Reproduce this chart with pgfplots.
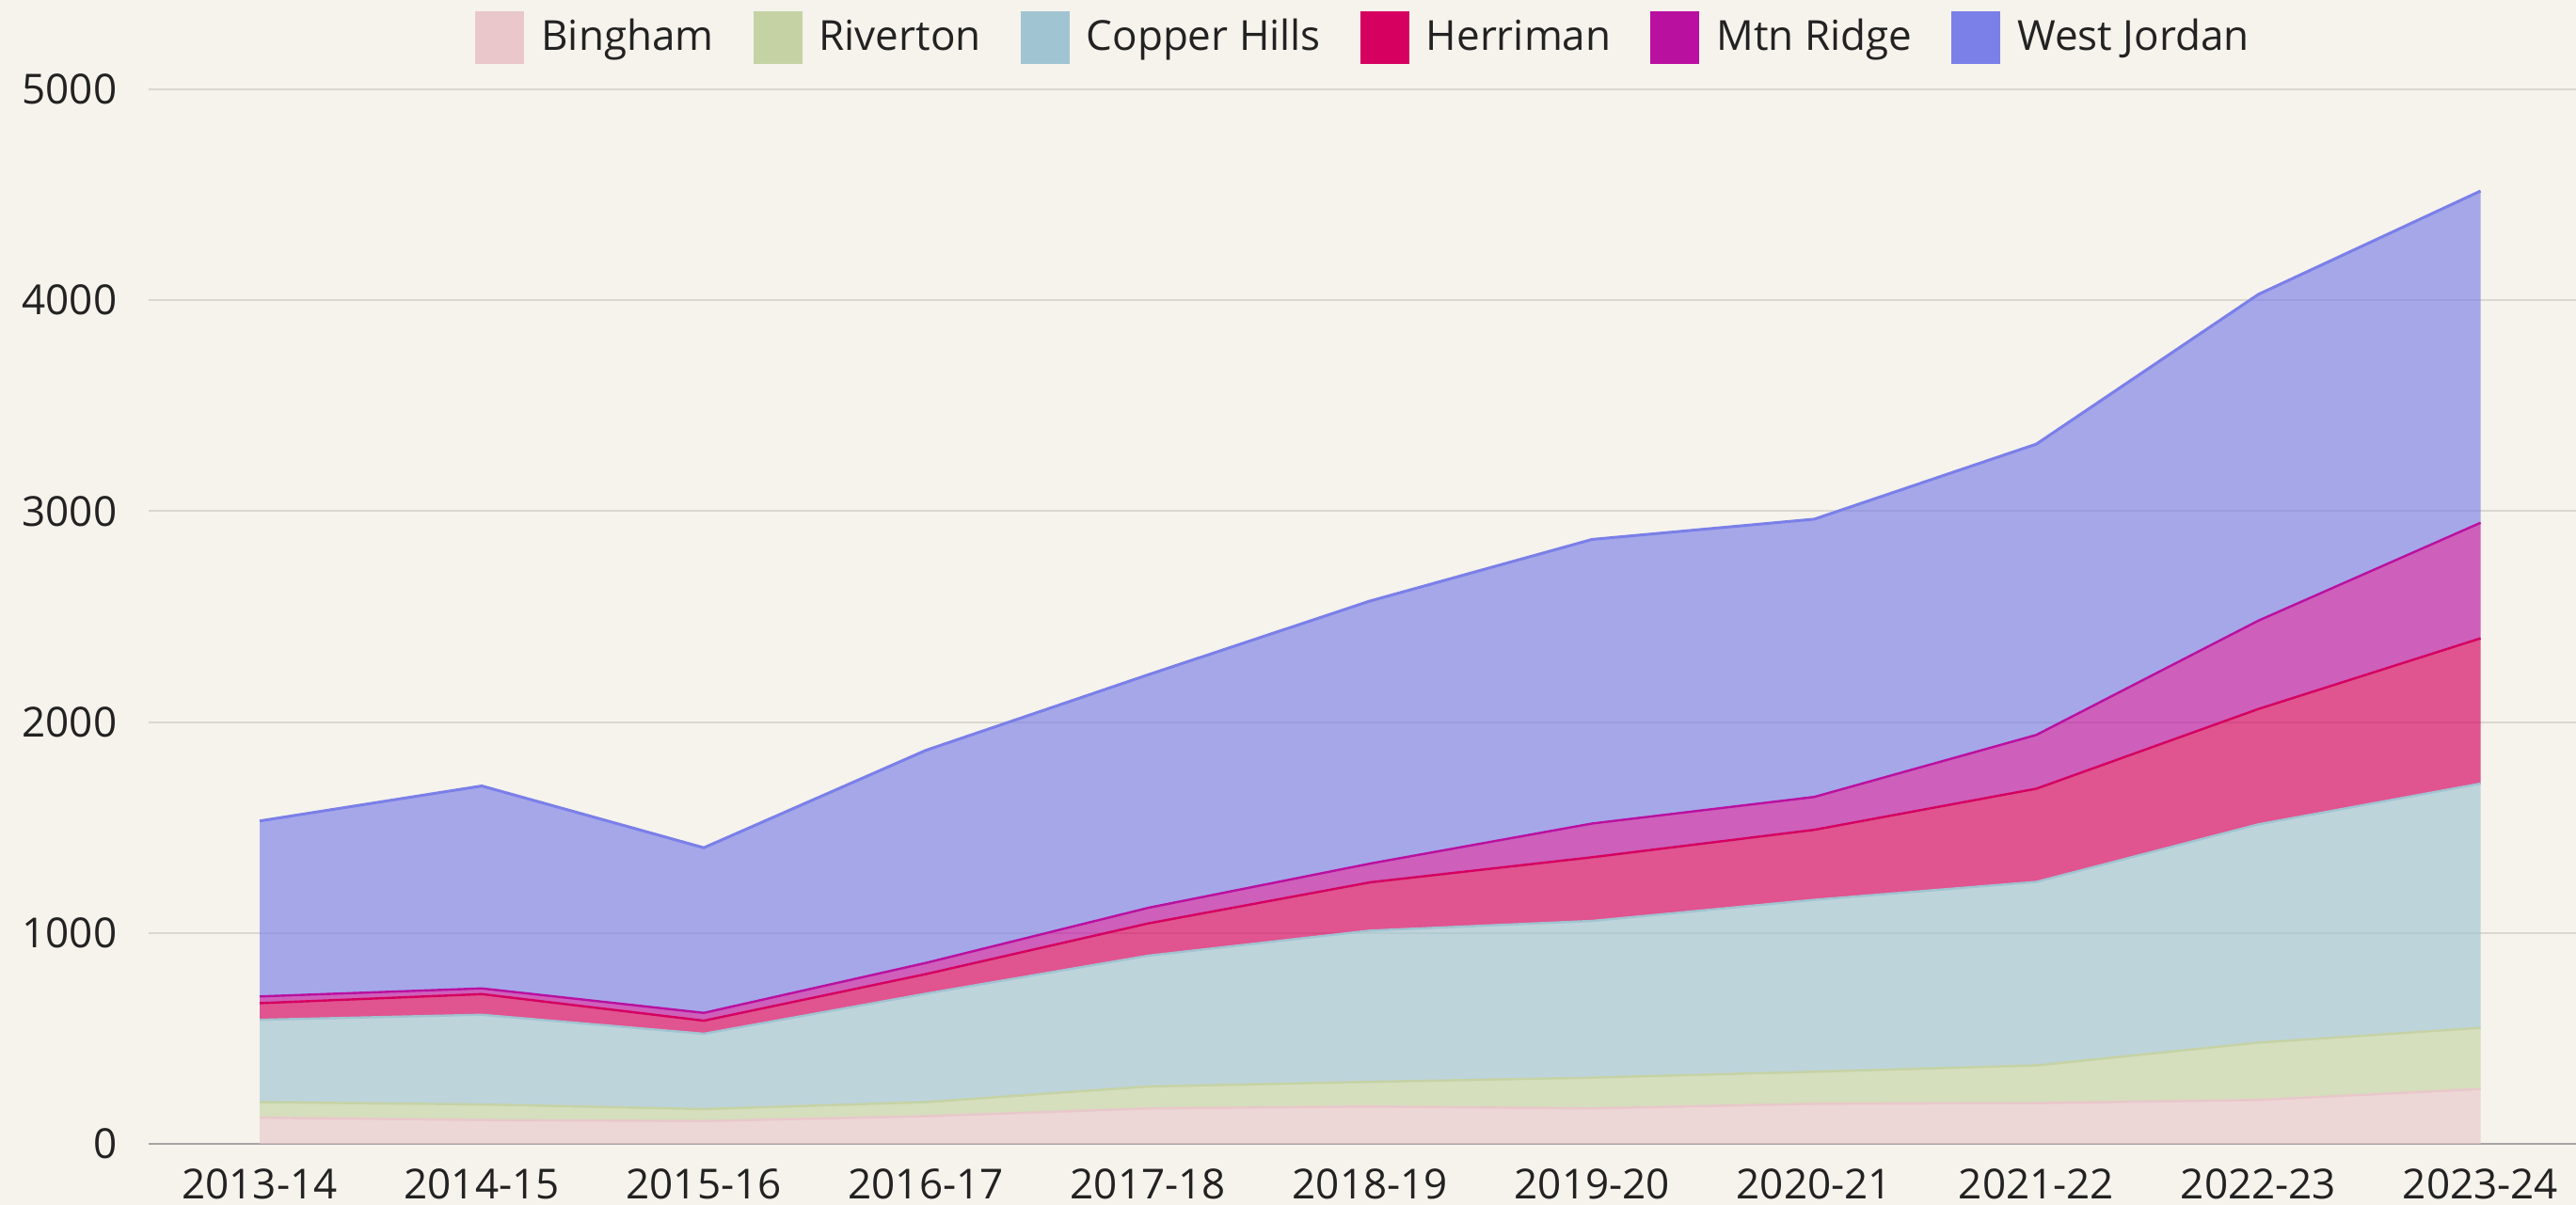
\documentclass[border=0pt]{standalone}
\usepackage{fontspec}
\setmainfont{Open Sans}
\usepackage{pgfplots}
\pgfplotsset{compat=1.18}
\usepackage{pgfplotstable}
\usetikzlibrary{backgrounds}

\definecolor{bgc}{RGB}{245,243,236}
\definecolor{gridc}{RGB}{218,215,208}
\definecolor{axc}{RGB}{165,165,165}
\definecolor{txt}{RGB}{34,34,34}
\definecolor{cBing}{RGB}{233,199,203}
\definecolor{cRiv}{RGB}{197,211,164}
\definecolor{cCop}{RGB}{161,196,210}
\definecolor{cHer}{RGB}{213,0,95}
\definecolor{cMtn}{RGB}{186,16,160}
\definecolor{cWJ}{RGB}{123,127,232}

\newcommand\lbl{\fontsize{11}{13}\selectfont}

% enrollment per school, Z = zero row used to stroke the top of each stack
\pgfplotstableread{
x  B   R   C    H   M   W    Z
0  124 74  390  79  32  832  0
1  113 74  425  98  27  960  0
2  108 57  357  62  37  783  0
3  131 67  514  93  53  1008 0
4  168 104 620  153 74  1105 0
5  177 117 717  229 89  1245 0
6  168 146 743  302 160 1347 0
7  190 152 815  332 156 1317 0
8  193 179 870  442 255 1379 0
9  208 272 1035 547 419 1547 0
10 260 290 1158 689 548 1573 0
}\enroll

\begin{document}
\begin{tikzpicture}
\begin{axis}[
  scale only axis, width=645pt, height=280.25pt,
  xmin=-0.5, xmax=10.43, ymin=0, ymax=5000,
  stack plots=y,
  axis x line*=bottom, axis y line*=left,
  x axis line style={draw=axc, line width=0.5pt},
  y axis line style={draw=none},
  major tick length=0pt,
  xtick={0,...,10},
  xticklabels={2013-14,2014-15,2015-16,2016-17,2017-18,2018-19,2019-20,2020-21,2021-22,2022-23,2023-24},
  ytick={0,1000,...,5000},
  ymajorgrids, grid style={draw=gridc, line width=0.5pt},
  tick label style={font=\lbl, text=txt, inner sep=0pt},
  xticklabel style={anchor=north, yshift=-6.5pt},
  yticklabel style={anchor=east, xshift=-8.25pt},
  /pgf/number format/assume math mode=true,
  /pgf/number format/1000 sep={},
  legend columns=-1,
  legend style={at={(0.5,1)}, anchor=center, yshift=13.75pt, draw=none, fill=none,
    font=\lbl, text=txt, inner sep=0pt, nodes={inner sep=0pt},
    /tikz/every odd column/.append style={column sep=4.5pt},
    /tikz/every even column/.append style={column sep=10.5pt}},
  legend image code/.code={\fill[#1, fill opacity=1, draw=none] (0pt,-7pt) rectangle (13pt,7pt);},
]
\coordinate (O) at (rel axis cs:0,0);
\addplot[fill=cBing, fill opacity=0.65, draw=none] table[x=x,y=B]{\enroll} \closedcycle;
\addlegendentry{Bingham}
\addplot[draw=cBing, line width=0.6pt, forget plot] table[x=x,y=Z]{\enroll};
\addplot[fill=cRiv, fill opacity=0.65, draw=none] table[x=x,y=R]{\enroll} \closedcycle;
\addlegendentry{Riverton}
\addplot[draw=cRiv, line width=0.6pt, forget plot] table[x=x,y=Z]{\enroll};
\addplot[fill=cCop, fill opacity=0.65, draw=none] table[x=x,y=C]{\enroll} \closedcycle;
\addlegendentry{Copper Hills}
\addplot[draw=cCop, line width=0.6pt, forget plot] table[x=x,y=Z]{\enroll};
\addplot[fill=cHer, fill opacity=0.65, draw=none] table[x=x,y=H]{\enroll} \closedcycle;
\addlegendentry{Herriman}
\addplot[draw=cHer, line width=0.6pt, forget plot] table[x=x,y=Z]{\enroll};
\addplot[fill=cMtn, fill opacity=0.65, draw=none] table[x=x,y=M]{\enroll} \closedcycle;
\addlegendentry{Mtn Ridge}
\addplot[draw=cMtn, line width=0.6pt, forget plot] table[x=x,y=Z]{\enroll};
\addplot[fill=cWJ, fill opacity=0.65, draw=none] table[x=x,y=W]{\enroll} \closedcycle;
\addlegendentry{West Jordan}
\addplot[draw=cWJ, line width=0.75pt, forget plot] table[x=x,y=Z]{\enroll};
\end{axis}
\pgfresetboundingbox
\path[use as bounding box] ([shift={(-39.5pt,-16.25pt)}]O) rectangle ([shift={(645pt,304pt)}]O);
\begin{scope}[on background layer]
\fill[bgc] ([shift={(-39.5pt,-16.25pt)}]O) rectangle ([shift={(645pt,304pt)}]O);
\end{scope}
\end{tikzpicture}
\end{document}
